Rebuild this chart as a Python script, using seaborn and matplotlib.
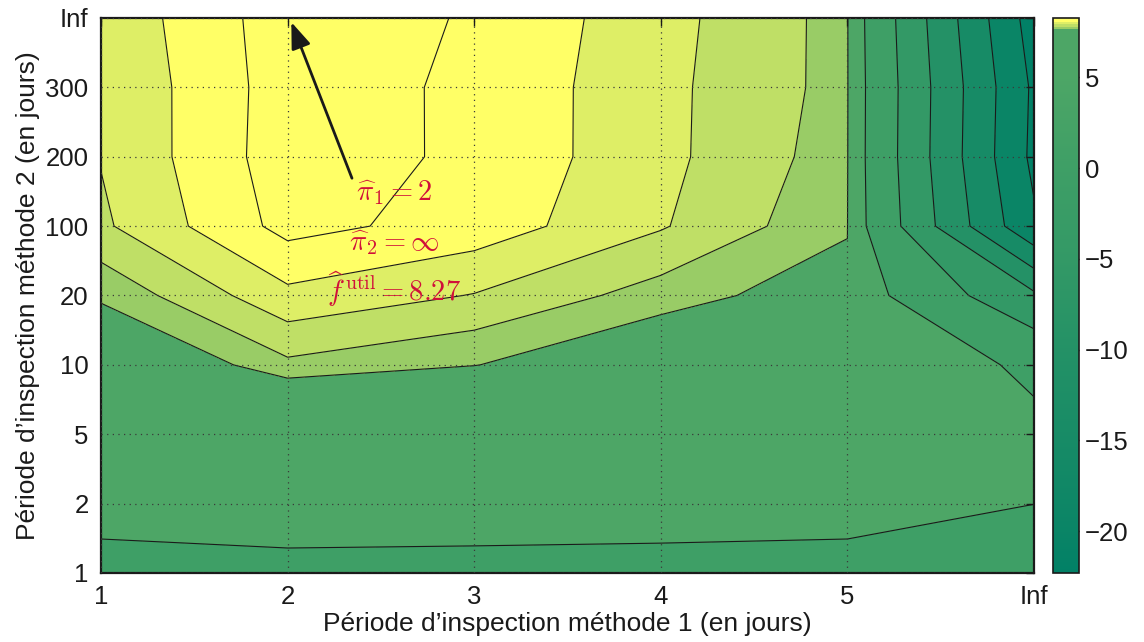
import numpy as np
import seaborn as sns
import matplotlib.pyplot as plt
from matplotlib.colors import LinearSegmentedColormap, Normalize
from matplotlib.cm import ScalarMappable

sns.set_theme(style="white")
plt.rcParams['font.family'] = ['Liberation Sans', 'DejaVu Sans']
plt.rcParams['mathtext.fontset'] = 'cm'
plt.rcParams['text.color'] = 'k'
plt.rcParams['axes.labelcolor'] = 'k'

# axis categories
period_m1 = ['1', '2', '3', '4', '5', 'Inf']
period_m2 = ['1', '2', '5', '10', '20', '100', '200', '300', 'Inf']

# utility, one list per period of method 1, from period_m2 = 1 up to Inf
util_m1_1 = [3.56, 6.50, 7.00, 7.46, 7.73, 7.928, 7.956, 7.960, 7.979]
util_m1_2 = [4.10, 6.60, 7.287, 7.798, 8.043, 8.242, 8.269, 8.263, 8.270]
util_m1_3 = [3.91, 6.70, 7.20, 7.706, 7.944, 8.147, 8.175, 8.177, 8.189]
util_m1_4 = [3.64, 6.80, 7.30, 7.52, 7.769, 7.962, 7.986, 7.985, 7.996]
util_m1_5 = [3.56, 6.50, 7.30, 7.60, 7.60, 7.722, 7.761, 7.779, 7.777]
util_m1_inf = [3.00, 5.02, 5.67, 4.43, -4.09, -19.24, -21.1, -20.8, -22.3]

levels = [-20, -15, -10, -5, 0, 5, 7.7, 7.825, 7.95, 8.075, 8.2]

# optimum
best_m1, best_m2, best_util = '2', 'Inf', 8.27

Z = np.column_stack([util_m1_1, util_m1_2, util_m1_3,
                     util_m1_4, util_m1_5, util_m1_inf])
xi = np.arange(len(period_m1))
yi = np.arange(len(period_m2))
zmin, zmax = Z.min(), Z.max()


def summer(r):
    return (r, 0.5 + r / 2, 0.4)


# band shades along the matlab "summer" map (low -> high)
band_r = [0.005, 0.04, 0.09, 0.14, 0.2, 0.245, 0.3, 0.6, 0.75, 0.87, 1.0, 1.0]

fig = plt.figure(figsize=(11.44, 6.42), dpi=100)
ax = fig.add_axes([0.0883, 0.1075, 0.8155, 0.8645])
cax = fig.add_axes([0.9205, 0.1075, 0.0227, 0.8645])

bounds = [zmin - 0.2] + levels + [zmax + 0.05]
ax.contourf(xi, yi, Z, levels=bounds, colors=[summer(r) for r in band_r])
ax.contour(xi, yi, Z, levels=levels, colors='k', linewidths=0.8,
           linestyles='solid')

ax.set_xlim(0, len(period_m1) - 1)
ax.set_ylim(0, len(period_m2) - 1)
ax.set_xticks(xi)
ax.set_xticklabels(period_m1)
ax.set_yticks(yi)
ax.set_yticklabels(period_m2)
ax.tick_params(direction='in', length=6, width=1, top=True, right=True,
               labelsize=18.5, colors='k', pad=9)
ax.grid(True, linestyle=(0, (1, 3.5)), color='#3a3a3a', linewidth=0.9)
ax.set_axisbelow(False)
for sp in ax.spines.values():
    sp.set_color('k')
    sp.set_linewidth(1.6)

ax.set_xlabel('Période d’inspection méthode 1 (en jours)', fontsize=19,
              labelpad=2)
ax.set_ylabel('Période d’inspection méthode 2 (en jours)', fontsize=19,
              labelpad=4)

# arrow + annotation of optimum
bx = period_m1.index(best_m1)
by = period_m2.index(best_m2)
ax.annotate('', xy=(bx + 0.02, by - 0.06), xytext=(bx + 0.345, by - 2.31),
            arrowprops=dict(arrowstyle='-|>,head_length=0.8,head_width=0.3',
                            color='k', lw=2, mutation_scale=20,
                            shrinkA=0, shrinkB=0))
red = '#d0103a'
ax.text(1.57, 5.48, r'$\widehat{\pi}_1 = %s$' % best_m1, color=red,
        fontsize=20.5, ha='center', va='center')
ax.text(1.57, 4.76, r'$\widehat{\pi}_2 = \infty$', color=red,
        fontsize=20.5, ha='center', va='center')
ax.text(1.57, 4.08, r'$\widehat{f}^{\,\mathrm{util}} = %.2f$' % best_util,
        color=red, fontsize=20.5, ha='center', va='center')

# colorbar built on the same band shades
nodes = [(zmin, band_r[0])]
for lev, r_lo, r_hi in zip(levels, band_r[:-1], band_r[1:]):
    if lev <= 5:
        nodes.append((lev, r_hi))
    else:
        nodes += [(lev, r_lo), (lev, r_hi)]
nodes.append((zmax, band_r[-1]))
cmap = LinearSegmentedColormap.from_list(
    'summer_bands', [((v - zmin) / (zmax - zmin), summer(r)) for v, r in nodes])
sm = ScalarMappable(norm=Normalize(zmin, zmax), cmap=cmap)
cb = fig.colorbar(sm, cax=cax)
cb.set_ticks([-20, -15, -10, -5, 0, 5])
cax.tick_params(direction='in', length=5, width=1, labelsize=18.5,
                left=True, right=True, pad=4, colors='k')
cb.outline.set_edgecolor('k')
cb.outline.set_linewidth(1.2)

fig.savefig('out.png', dpi=100)
